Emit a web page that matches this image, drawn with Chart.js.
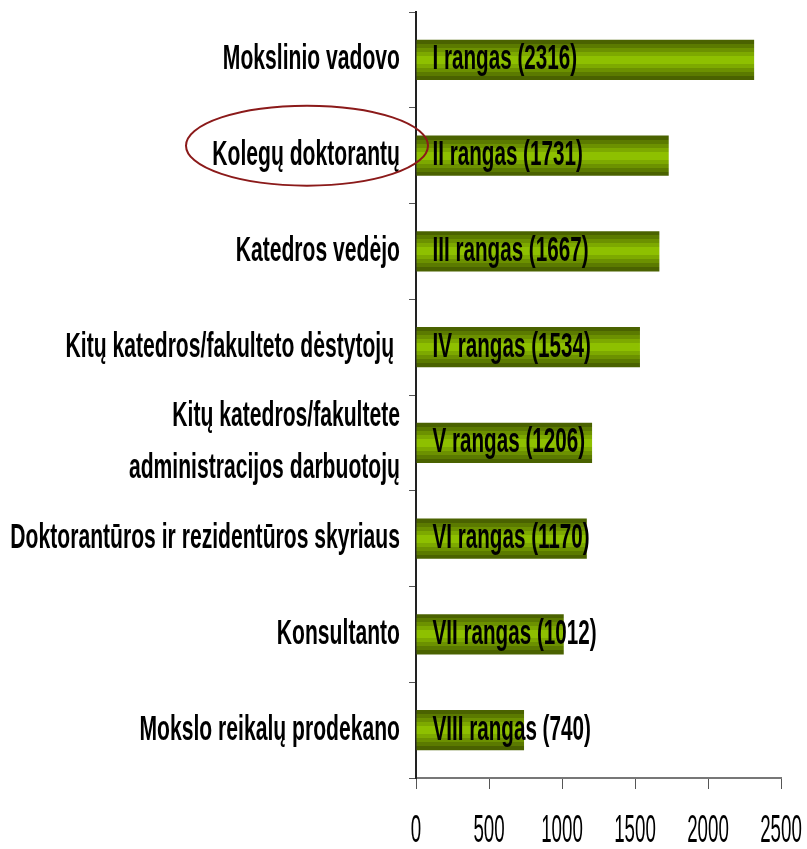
<!DOCTYPE html>
<html>
<head>
<meta charset="utf-8">
<script src="https://cdn.jsdelivr.net/npm/chart.js@4"></script>
<style>
  html, body { margin: 0; padding: 0; background: #fff; }
  #wrap { width: 807px; height: 849px; position: relative; }
</style>
</head>
<body>
<div id="wrap"><canvas id="c" width="807" height="849"></canvas></div>
<script>
const categories = [
  ["Mokslinio vadovo"],
  ["Kolegų doktorantų"],
  ["Katedros vedėjo"],
  ["Kitų katedros/fakulteto dėstytojų "],
  ["Kitų katedros/fakultete", "administracijos darbuotojų"],
  ["Doktorantūros ir rezidentūros skyriaus"],
  ["Konsultanto"],
  ["Mokslo reikalų prodekano"]
];
const ranks = ["I", "II", "III", "IV", "V", "VI", "VII", "VIII"];
const values = [2316, 1731, 1667, 1534, 1206, 1170, 1012, 740];
const xTicks = [0, 500, 1000, 1500, 2000, 2500];

const BAR_PCT = 0.42;
const DARK = [74, 98, 0], LIGHT = [150, 204, 0];

// draws squeezed/stretched text like the original (narrow, tall glyphs)
function stretchText(ctx, text, x, y, align, bold, size, sx, sy) {
  ctx.save();
  ctx.translate(x, y);
  ctx.scale(sx, sy);
  ctx.font = (bold ? "bold " : "") + size + "px 'Liberation Sans', Arial, sans-serif";
  ctx.textAlign = align;
  ctx.textBaseline = "middle";
  ctx.fillStyle = "#000";
  ctx.fillText(text, 0, 0);
  ctx.restore();
}

function barGradient(c) {
  const chart = c.chart;
  const ys = chart.scales.y;
  if (!ys || c.type !== "data") return "rgb(150,204,0)";
  const yc = ys.getPixelForValue(c.dataIndex);
  const h = ys.height / categories.length * BAR_PCT;
  if (!isFinite(yc) || !isFinite(h) || h <= 0) return "rgb(150,204,0)";
  const g = chart.ctx.createLinearGradient(0, yc - h / 2, 0, yc + h / 2);
  const n = 10;
  for (let i = 0; i < n; i++) {
    const t = 1 - Math.abs(i - (n - 1) / 2) / ((n - 1) / 2);
    const col = DARK.map((d, k) => Math.round(d + (LIGHT[k] - d) * t));
    const s = `rgb(${col.join(",")})`;
    g.addColorStop(i / n, s);
    g.addColorStop((i + 1) / n - 0.0001, s);
  }
  return g;
}

const labelsPlugin = {
  id: "labels",
  afterDraw(chart) {
    const ctx = chart.ctx;
    const ys = chart.scales.y, xs = chart.scales.x;
    // category labels
    categories.forEach((lines, i) => {
      const yc = ys.getPixelForValue(i);
      const gap = 52;
      lines.forEach((ln, j) => {
        const y = yc + (j - (lines.length - 1) / 2) * gap;
        stretchText(ctx, ln, ys.right - 16, y, "right", true, 24, 0.88, 1.45);
      });
    });
    // labels inside bars
    const meta = chart.getDatasetMeta(0);
    meta.data.forEach((bar, i) => {
      stretchText(ctx, `${ranks[i]} rangas (${values[i]})`, bar.base + 16, bar.y, "left", true, 24, 0.86, 1.45);
    });
    // x tick labels
    xTicks.forEach(v => {
      stretchText(ctx, String(v), xs.getPixelForValue(v), 831, "center", false, 24, 0.78, 1.62);
    });
    // red ellipse around the second category
    ctx.save();
    ctx.strokeStyle = "#8b1a1a";
    ctx.lineWidth = 2;
    ctx.beginPath();
    ctx.ellipse(ys.right - 109, ys.getPixelForValue(1) - 10, 121, 40, 0, 0, Math.PI * 2);
    ctx.stroke();
    ctx.restore();
  }
};

new Chart(document.getElementById("c"), {
  type: "bar",
  data: {
    labels: categories.map(l => l.join(" ")),
    datasets: [{
      data: values,
      backgroundColor: barGradient,
      borderWidth: 0,
      barPercentage: BAR_PCT,
      categoryPercentage: 1
    }]
  },
  options: {
    indexAxis: "y",
    responsive: false,
    animation: false,
    layout: { padding: { top: 12, right: 26, left: 0, bottom: 0 } },
    plugins: { legend: { display: false }, tooltip: { enabled: false } },
    scales: {
      x: {
        min: 0, max: 2500,
        afterBuildTicks: (s) => { s.ticks = xTicks.map(v => ({ value: v })); },
        afterFit: (s) => { s.height = 71; },
        ticks: { display: false },
        grid: { drawOnChartArea: false, tickLength: 11, color: "#555" },
        border: { color: "#777", width: 2 }
      },
      y: {
        afterFit: (s) => { s.width = 416; },
        ticks: { display: false },
        grid: { drawOnChartArea: false, offset: true, tickLength: 7, color: "#555" },
        border: { color: "#222", width: 2 }
      }
    }
  },
  plugins: [labelsPlugin]
});
</script>
</body>
</html>
